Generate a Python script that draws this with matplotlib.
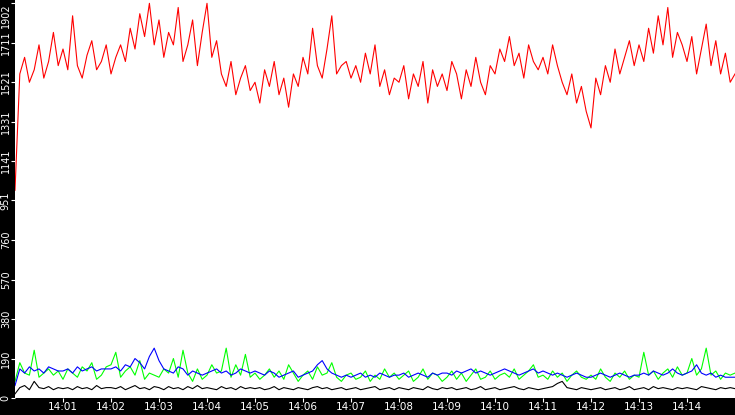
import numpy as np
import matplotlib.pyplot as plt

# one sample every 6 s, 14:00:00 -> 14:15:00
red = [1000,1560,1640,1520,1580,1700,1540,1620,1760,1600,
       1680,1580,1840,1600,1540,1650,1720,1580,1620,1700,
       1560,1640,1700,1620,1780,1680,1850,1740,1900,1700,
       1820,1640,1760,1700,1880,1620,1700,1820,1600,1760,
       1900,1640,1720,1560,1500,1620,1460,1540,1600,1480,
       1520,1420,1580,1500,1620,1460,1540,1400,1560,1500,
       1640,1560,1780,1600,1540,1680,1840,1560,1600,1620,
       1540,1600,1520,1660,1560,1700,1500,1580,1460,1540,
       1520,1600,1440,1560,1500,1620,1420,1580,1500,1560,
       1480,1620,1560,1440,1580,1500,1640,1520,1460,1600,
       1560,1680,1620,1740,1600,1660,1540,1700,1620,1580,
       1640,1560,1700,1600,1520,1460,1560,1420,1500,1380,
       1300,1540,1460,1600,1520,1680,1560,1640,1720,1600,
       1700,1620,1780,1660,1840,1700,1880,1640,1760,1700,
       1620,1740,1560,1680,1800,1600,1720,1560,1660,1520,1560]
blue = [60,140,120,150,130,140,120,150,140,130,
        130,140,120,150,130,140,150,130,140,140,
        140,150,130,160,150,190,170,140,200,240,
        180,140,130,120,150,140,110,130,120,110,
        120,130,140,120,130,110,120,140,130,120,
        130,120,110,130,120,100,110,120,130,100,
        110,120,130,160,180,140,120,110,100,110,
        100,110,120,100,110,100,120,110,100,110,
        110,120,100,110,120,110,100,120,110,120,
        120,110,130,120,130,140,120,130,120,110,
        120,130,140,130,120,110,120,130,140,120,
        130,120,110,120,110,100,110,120,110,100,
        100,110,120,110,100,110,120,110,100,110,
        110,120,110,130,120,110,120,140,120,110,
        120,130,160,120,110,120,100,110,100,100,100]
green = [80,170,120,110,230,100,120,140,110,130,
         90,140,120,100,150,130,170,90,110,150,
         160,220,100,130,150,110,180,90,120,110,
         100,140,120,190,100,230,120,80,140,90,
         110,160,120,130,240,100,160,110,210,100,
         120,90,110,140,100,130,90,160,120,80,
         110,130,90,150,110,120,170,100,80,110,
         120,90,100,130,80,110,90,140,100,120,
         90,110,130,80,100,140,90,120,110,80,
         100,130,90,120,80,110,140,90,100,130,
         90,110,120,100,140,90,110,130,160,100,
         110,90,130,100,120,80,110,130,100,90,
         110,90,140,100,80,120,100,130,90,110,
         100,220,110,130,90,120,140,100,150,110,
         120,190,110,140,240,110,130,90,120,110,120]
black = [20,50,60,40,80,50,45,55,40,50,
         45,50,40,55,45,50,40,60,45,50,
         50,45,55,40,50,60,45,50,40,55,
         50,40,55,45,50,40,55,45,60,45,
         50,45,40,55,45,50,40,55,45,50,
         45,50,40,45,55,40,50,45,40,50,
         45,40,50,55,45,50,40,45,50,40,
         45,50,40,45,50,55,40,45,50,40,
         50,45,40,50,45,40,55,45,40,50,
         45,50,40,45,50,40,45,55,40,45,
         50,40,45,50,55,45,40,50,45,40,
         45,50,55,70,80,50,45,40,50,45,
         40,45,50,40,45,50,40,45,55,40,
         45,50,40,55,45,50,45,40,50,45,
         50,45,40,55,50,45,40,50,45,50,45]
t = np.arange(len(red)) * 6
y_ticks = [0, 190, 380, 570, 760, 951, 1141, 1331, 1521, 1711, 1902]
x_ticks = [60 * m for m in range(1, 15)]
x_labels = [f"14:{m:02d}" for m in range(1, 15)]

fig = plt.figure(figsize=(7.35, 4.15), dpi=100, facecolor="black")
ax = fig.add_axes([15/735, 17/415, 720/735, 398/415])
ax.set_facecolor("white")
ax.plot(t, red, color="red", lw=0.8)
ax.plot(t, black, color="black", lw=0.8)
ax.plot(t, green, color="#00ff00", lw=0.8)
ax.plot(t, blue, color="blue", lw=0.8)
ax.set_xlim(0, 900)
ax.set_ylim(0, 1916)
ax.set_yticks(y_ticks)
ax.set_yticklabels([str(v) for v in y_ticks], rotation=90, va="center")
ax.get_yticklabels()[-1].set_va("top")
ax.set_xticks(x_ticks)
ax.set_xticklabels(x_labels)
ax.tick_params(colors="white", labelsize=7.5, length=3, pad=0)
ax.tick_params(axis="y", labelsize=7)
for s in ax.spines.values():
    s.set_visible(False)
fig.savefig("out.png", dpi=100, facecolor="black")
